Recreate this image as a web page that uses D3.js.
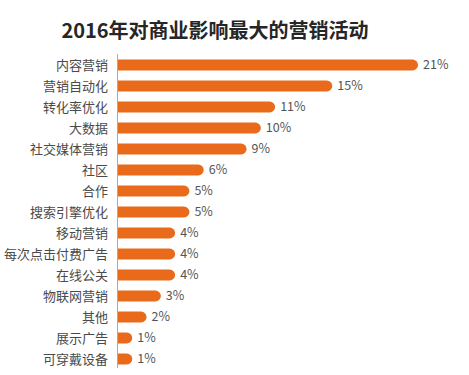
<!DOCTYPE html>
<html><head><meta charset="utf-8">
<script src="https://cdn.jsdelivr.net/npm/d3@7"></script>
<style>body{margin:0;background:#fff}</style>
</head><body>
<script>
const categories = ["内容营销","营销自动化","转化率优化","大数据","社交媒体营销","社区","合作","搜索引擎优化","移动营销","每次点击付费广告","在线公关","物联网营销","其他","展示广告","可穿戴设备"];
const values = [21,15,11,10,9,6,5,5,4,4,4,3,2,1,1];
const labels = values.map(v => v + "%");
const title = "2016年对商业影响最大的营销活动";

const W = 469, H = 375;
const svg = d3.select("body").append("svg").attr("width", W).attr("height", H);
const font = "'Noto Sans CJK SC', 'Noto Sans', sans-serif";

svg.append("text").attr("x", 215).attr("y", 38).attr("text-anchor", "middle")
  .attr("font-family", font).attr("font-size", 20).attr("font-weight", "bold")
  .attr("fill", "#262626").text(title);

const x = d3.scaleLinear().domain([0, 21]).range([118, 418]);
const y = d3.scaleBand().domain(categories).range([54.5, 369.5]).paddingInner(0.48).paddingOuter(0.24);
const bh = y.bandwidth();

// axis line
svg.append("line").attr("x1", 117.5).attr("x2", 117.5).attr("y1", 54).attr("y2", 368)
  .attr("stroke", "#aaa").attr("stroke-width", 1);

const barPath = (v, c) => {
  const x0 = x(0), x1 = x(v), y0 = y(c), r = bh / 2;
  return `M${x0},${y0}H${x1 - r}A${r},${r} 0 0 1 ${x1 - r},${y0 + bh}H${x0}Z`;
};

svg.selectAll("path.bar").data(categories).join("path").attr("class", "bar")
  .attr("d", (c, i) => barPath(values[i], c)).attr("fill", "#EA6A1B");

svg.selectAll("text.cat").data(categories).join("text").attr("class", "cat")
  .attr("x", 108).attr("y", c => y(c) + bh / 2).attr("dy", "0.35em")
  .attr("text-anchor", "end").attr("font-family", font).attr("font-size", 13)
  .attr("fill", "#4a4a4a").text(c => c);

svg.selectAll("text.val").data(categories).join("text").attr("class", "val")
  .attr("x", (c, i) => x(values[i]) + 5).attr("y", c => y(c) + bh / 2).attr("dy", "0.35em")
  .attr("font-family", font).attr("font-size", 12.5).attr("fill", "#555")
  .text((c, i) => labels[i]);
</script>
</body></html>
